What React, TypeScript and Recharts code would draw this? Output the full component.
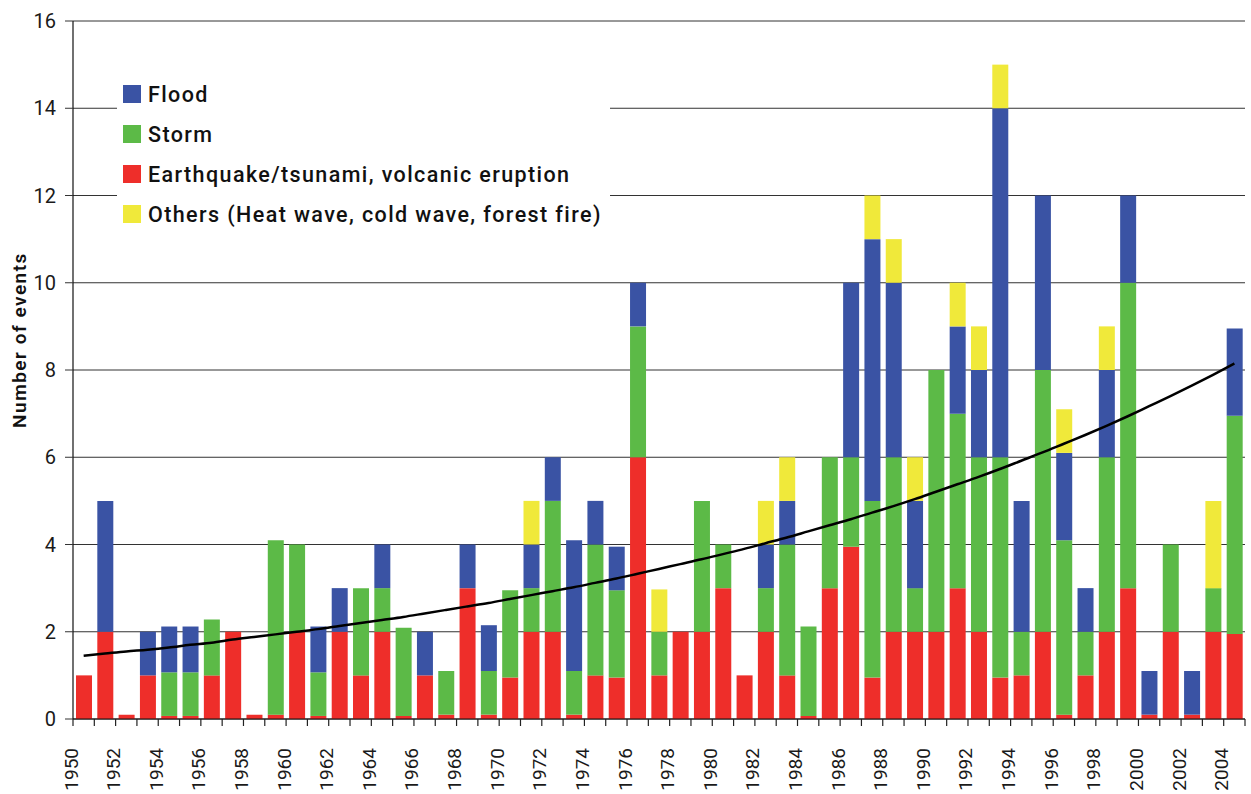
import React from "react";
import {
  Bar,
  CartesianGrid,
  ComposedChart,
  Line,
  XAxis,
  YAxis,
} from "recharts";

const years = [
  1950, 1951, 1952, 1953, 1954, 1955, 1956, 1957, 1958, 1959,
  1960, 1961, 1962, 1963, 1964, 1965, 1966, 1967, 1968, 1969,
  1970, 1971, 1972, 1973, 1974, 1975, 1976, 1977, 1978, 1979,
  1980, 1981, 1982, 1983, 1984, 1985, 1986, 1987, 1988, 1989,
  1990, 1991, 1992, 1993, 1994, 1995, 1996, 1997, 1998, 1999,
  2000, 2001, 2002, 2003, 2004,
];

// values, one per year
const quake = [
  1, 2, 0.1, 1, 0.07, 0.07, 1, 2, 0.1, 0.1,
  2, 0.07, 2, 1, 2, 0.07, 1, 0.1, 3, 0.1,
  0.95, 2, 2, 0.1, 1, 0.95, 6, 1, 2, 2,
  3, 1, 2, 1, 0.07, 3, 3.95, 0.95, 2, 2,
  2, 3, 2, 0.95, 1, 2, 0.1, 1, 2, 3,
  0.1, 2, 0.1, 2, 1.95,
];
const storm = [
  0, 0, 0, 0, 1, 1, 1.28, 0, 0, 4,
  2, 1, 0, 2, 1, 2.02, 0, 1, 0, 1,
  2, 1, 3, 1, 3, 2, 3, 1, 0, 3,
  1, 0, 1, 3, 2.05, 3, 2.05, 4.05, 4, 1,
  6, 4, 4, 5.05, 1, 6, 4, 1, 4, 7,
  0, 2, 0, 1, 5,
];
const flood = [
  0, 3, 0, 1, 1.05, 1.05, 0, 0, 0, 0,
  0, 1.05, 1, 0, 1, 0, 1, 0, 1, 1.05,
  0, 1, 1, 3, 1, 1, 1, 0, 0, 0,
  0, 0, 1, 1, 0, 0, 4, 6, 4, 2,
  0, 2, 2, 8, 3, 4, 2, 1, 2, 2,
  1, 0, 1, 0, 2,
];
const others = [
  0, 0, 0, 0, 0, 0, 0, 0, 0, 0,
  0, 0, 0, 0, 0, 0, 0, 0, 0, 0,
  0, 1, 0, 0, 0, 0, 0, 0.97, 0, 0,
  0, 0, 1, 1, 0, 0, 0, 1, 1, 1,
  0, 1, 1, 1, 0, 0, 1, 0, 1, 0,
  0, 0, 0, 2, 0,
];
// black trend curve, read at each year
const trend = [
  1.45, 1.5, 1.55, 1.59, 1.64, 1.7, 1.75, 1.82, 1.88, 1.94,
  2.0, 2.06, 2.13, 2.2, 2.27, 2.34, 2.42, 2.5, 2.58, 2.66,
  2.75, 2.84, 2.93, 3.02, 3.12, 3.22, 3.33, 3.44, 3.55, 3.66,
  3.78, 3.9, 4.03, 4.16, 4.3, 4.44, 4.58, 4.73, 4.88, 5.04,
  5.21, 5.38, 5.55, 5.73, 5.92, 6.11, 6.31, 6.51, 6.72, 6.94,
  7.17, 7.4, 7.64, 7.89, 8.15,
];

const yTicks = [0, 2, 4, 6, 8, 10, 12, 14, 16];
const xBoundaries = [...years, 2005];

const series = [
  { key: "flood", name: "Flood", color: "#3a53a4" },
  { key: "storm", name: "Storm", color: "#5cba47" },
  { key: "quake", name: "Earthquake/tsunami, volcanic eruption", color: "#ee2e2a" },
  { key: "others", name: "Others (Heat wave, cold wave, forest fire)", color: "#f0e93a" },
];
const stackOrder = ["quake", "storm", "flood", "others"];

const data = years.map((y, i) => ({
  x: y + 0.5,
  quake: quake[i],
  storm: storm[i],
  flood: flood[i],
  others: others[i],
  trend: trend[i],
}));

const FONT = "Roboto, 'DejaVu Sans', sans-serif";

const YearTick = (props: any) => {
  const { x, y, payload } = props;
  const show = payload.value % 2 === 0 && payload.value < 2005;
  const ly = y + 29;
  return (
    <g>
      <line x1={x} x2={x} y1={y} y2={y + 7} stroke="#222" strokeWidth={1.2} />
      {show && (
        <text
          x={x - 2}
          y={ly}
          transform={`rotate(-90, ${x - 2}, ${ly})`}
          textAnchor="end"
          dominantBaseline="central"
          fontFamily={FONT}
          fontSize={19}
          fill="#1a1a1a"
        >
          {payload.value}
        </text>
      )}
    </g>
  );
};

const YTitle = (props: any) => {
  const { viewBox } = props;
  const cx = 19;
  const cy = viewBox.y + viewBox.height / 2 - 30;
  return (
    <text
      x={cx}
      y={cy}
      transform={`rotate(-90, ${cx}, ${cy})`}
      textAnchor="middle"
      dominantBaseline="central"
      fontFamily={FONT}
      fontSize={19}
      fontWeight={600}
      letterSpacing={1.5}
      fill="#111"
    >
      Number of events
    </text>
  );
};

const LegendBox = () => (
  <div
    style={{
      position: "absolute",
      left: 117,
      top: 66,
      background: "#fff",
      width: 493,
      height: 172,
      paddingTop: 8,
      paddingLeft: 6,
      boxSizing: "border-box",
    }}
  >
    {series.map((s) => (
      <div
        key={s.key}
        style={{ display: "flex", alignItems: "center", height: 40 }}
      >
        <span
          style={{
            width: 18,
            height: 18,
            background: s.color,
            display: "inline-block",
            marginRight: 7,
            flexShrink: 0,
          }}
        />
        <span
          style={{
            fontFamily: FONT,
            fontSize: 21.5,
            fontWeight: 500,
            letterSpacing: 1.4,
            color: "#111",
            whiteSpace: "nowrap",
          }}
        >
          {s.name}
        </span>
      </div>
    ))}
  </div>
);

export default function App() {
  return (
    <div
      style={{ position: "relative", width: 1251, height: 794, background: "#fff" }}
    >
      <style>{`body{margin:0}`}</style>
      <ComposedChart
        width={1251}
        height={794}
        data={data}
        margin={{ top: 21, right: 6, bottom: 0, left: 0 }}
      >
        <CartesianGrid vertical={false} stroke="#333" strokeWidth={1} />
        <XAxis
          dataKey="x"
          type="number"
          domain={[1950, 2005]}
          ticks={xBoundaries}
          interval={0}
          height={75}
          tickLine={false}
          tickSize={0}
          tickMargin={0}
          axisLine={{ stroke: "#111", strokeWidth: 1.2 }}
          tick={<YearTick />}
          allowDecimals={false}
        />
        <YAxis
          width={73}
          domain={[0, 16]}
          ticks={yTicks}
          interval={0}
          tickSize={8}
          tickMargin={9}
          tickLine={{ stroke: "#333" }}
          axisLine={{ stroke: "#111", strokeWidth: 1.2 }}
          tick={{ fontFamily: FONT, fontSize: 20, fill: "#1a1a1a" }}
          label={<YTitle />}
        />
        {stackOrder.map((k) => {
          const s = series.find((d) => d.key === k)!;
          return (
            <Bar
              key={k}
              dataKey={k}
              name={s.name}
              stackId="a"
              fill={s.color}
              barSize={16}
              isAnimationActive={false}
            />
          );
        })}
        <Line
          dataKey="trend"
          type="monotone"
          stroke="#000"
          strokeWidth={2.5}
          dot={false}
          activeDot={false}
          isAnimationActive={false}
        />
      </ComposedChart>
      <LegendBox />
    </div>
  );
}
